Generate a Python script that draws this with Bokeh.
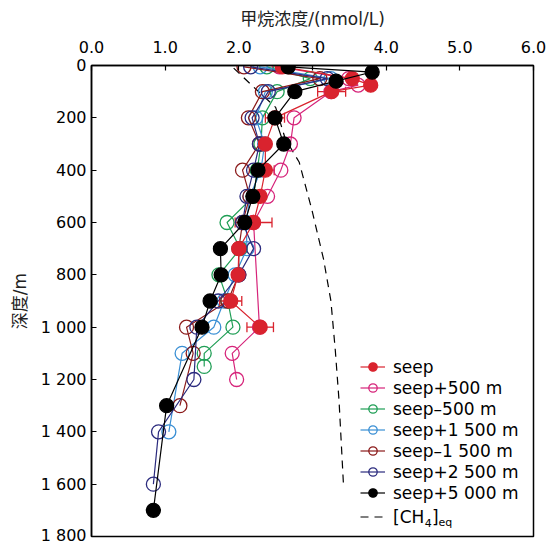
from bokeh.plotting import figure
from bokeh.models import (Range1d, FixedTicker, Legend, LegendItem, Whisker, ColumnDataSource,
                          Label, TeeHead)
from bokeh.embed import file_html
from bokeh.resources import INLINE

# ---------------- data ----------------
seep_depth = [5, 50, 75, 100, 200, 300, 400, 500, 600, 700, 800, 900, 1000]
seep_conc = [2.59, 3.54, 3.79, 3.26, 2.49, 2.36, 2.36, 2.29, 2.20, 2.00, 1.99, 1.89, 2.29]
seep_err = [0, 0, 0, 0.19, 0.13, 0, 0.12, 0, 0.25, 0, 0, 0.15, 0.18]

p500_depth = [5, 50, 75, 100, 200, 300, 400, 500, 600, 1000, 1100, 1200]
p500_conc = [2.55, 3.49, 3.62, 3.25, 2.75, 2.70, 2.57, 2.39, 2.20, 2.28, 1.91, 1.97]

m500_depth = [5, 50, 100, 200, 300, 400, 500, 600, 700, 800, 900, 1000, 1100, 1150]
m500_conc = [2.38, 2.97, 2.52, 2.32, 2.30, 2.25, 2.20, 1.84, 2.02, 1.73, 1.85, 1.92, 1.53, 1.53]

p1500_depth = [5, 50, 100, 200, 300, 400, 500, 600, 700, 800, 900, 1000, 1100, 1400]
p1500_conc = [2.29, 3.25, 2.36, 2.23, 2.35, 2.30, 2.15, 2.10, 2.11, 1.95, 1.80, 1.66, 1.23, 1.05]

m1500_depth = [5, 50, 100, 200, 300, 400, 500, 600, 700, 800, 900, 1000, 1100, 1300]
m1500_conc = [2.07, 3.10, 2.32, 2.13, 2.28, 2.05, 2.15, 2.05, 2.00, 2.00, 1.85, 1.29, 1.38, 1.20]

p2500_depth = [5, 50, 100, 200, 300, 400, 500, 600, 700, 800, 900, 1000, 1200, 1400, 1600]
p2500_conc = [2.16, 3.20, 2.40, 2.18, 2.28, 2.20, 2.11, 2.05, 2.20, 2.00, 1.72, 1.43, 1.39, 0.91, 0.84]

p5000_depth = [5, 25, 60, 100, 200, 300, 400, 500, 600, 700, 800, 900, 1000, 1300, 1700]
p5000_conc = [2.67, 3.81, 3.32, 2.76, 2.49, 2.61, 2.26, 2.19, 2.08, 1.75, 1.76, 1.61, 1.50, 1.02, 0.84]

eq_depth = [10, 90, 160, 280, 370, 550, 740, 900, 1090, 1280, 1600]
eq_conc = [1.93, 2.23, 2.50, 2.63, 2.82, 2.99, 3.15, 3.25, 3.31, 3.36, 3.42]

x_ticks = [0, 1, 2, 3, 4, 5, 6]
x_tick_labels = ["0.0", "1.0", "2.0", "3.0", "4.0", "5.0", "6.0"]
y_ticks = [0, 200, 400, 600, 800, 1000, 1200, 1400, 1600, 1800]
y_tick_labels = ["0", "200", "400", "600", "800", "1 000", "1 200", "1 400", "1 600", "1 800"]

FONT = "DejaVu Sans"
CJK = "DejaVu Sans, Noto Sans CJK SC"

p = figure(frame_width=442, frame_height=471, output_backend="svg", toolbar_location=None,
           x_range=Range1d(0, 6), y_range=Range1d(1800, 0),
           x_axis_location="above", min_border_left=91, min_border_top=65,
           min_border_right=14, min_border_bottom=8)
p.background_fill_color = "white"
p.grid.visible = False
p.outline_line_color = "black"
p.outline_line_width = 1.5
p.outline_line_alpha = 1

for ax in (p.xaxis[0], p.yaxis[0]):
    ax.major_tick_in = 5
    ax.major_tick_out = 0
    ax.minor_tick_in = 0
    ax.minor_tick_out = 0
    ax.axis_line_width = 1.5
    ax.major_tick_line_width = 1.2
    ax.major_label_text_font = FONT
    ax.major_label_text_font_size = "16px"
    ax.major_label_text_color = "black"
    ax.axis_label_text_font = CJK
    ax.axis_label_text_font_size = "17px"
    ax.axis_label_text_font_style = "normal"
    ax.axis_label_text_color = "#222222"

p.xaxis.ticker = FixedTicker(ticks=x_ticks)
p.xaxis.major_label_overrides = dict(zip(x_ticks, x_tick_labels))
p.yaxis.ticker = FixedTicker(ticks=y_ticks)
p.yaxis.major_label_overrides = dict(zip(y_ticks, y_tick_labels))
p.xaxis.axis_label = "甲烷浓度/(nmol/L)"
p.yaxis.axis_label = "深度/m"
p.xaxis.major_label_standoff = 13
p.xaxis.axis_label_standoff = 9
p.yaxis.major_label_standoff = 5
p.yaxis.axis_label_standoff = 8

SIZE = 14

def series(conc, depth, color, filled, name):
    src = ColumnDataSource(dict(x=conc, y=depth))
    r_line = p.line("x", "y", source=src, line_color=color, line_width=1.2)
    r_pt = p.scatter("x", "y", source=src, marker="circle", size=SIZE,
                     line_color=color, line_width=1.3,
                     fill_color=color if filled else None,
                     fill_alpha=1 if filled else 0)
    return LegendItem(label=name, renderers=[r_line, r_pt])

# dashed equilibrium line
r_eq = p.line(eq_conc, eq_depth, line_color="black", line_width=1.2, line_dash="8 6")

items = []
items.append(series(p500_conc, p500_depth, "#d6247a", False, "seep+500 m"))
items.append(series(m500_conc, m500_depth, "#1f9e55", False, "seep\u2013500 m"))
items.append(series(p1500_conc, p1500_depth, "#3a8fd4", False, "seep+1 500 m"))
items.append(series(m1500_conc, m1500_depth, "#8b1a1a", False, "seep\u20131 500 m"))
items.append(series(p2500_conc, p2500_depth, "#2b2b7e", False, "seep+2 500 m"))

# seep with error bars
err_x = [c for c, e in zip(seep_conc, seep_err) if e > 0]
err_y = [d for d, e in zip(seep_depth, seep_err) if e > 0]
err_e = [e for e in seep_err if e > 0]
err_src = ColumnDataSource(dict(base=err_y, lower=[c - e for c, e in zip(err_x, err_e)],
                                upper=[c + e for c, e in zip(err_x, err_e)]))
wh = Whisker(base="base", lower="lower", upper="upper", dimension="width", source=err_src,
             line_color="#d9232e", line_width=1.3)
wh.upper_head = TeeHead(size=10, line_color="#d9232e", line_width=1.3)
wh.lower_head = TeeHead(size=10, line_color="#d9232e", line_width=1.3)
p.add_layout(wh)
seep_item = series(seep_conc, seep_depth, "#d9232e", True, "seep")
items.insert(0, seep_item)

items.append(series(p5000_conc, p5000_depth, "black", True, "seep+5 000 m"))

legend = Legend(items=items, location=(269, 33), orientation="vertical")
legend2 = Legend(items=[LegendItem(label="[CH", renderers=[r_eq])], location=(269, 9))
for lg in (legend, legend2):
    lg.glyph_width = 25
    lg.glyph_height = 21
    lg.label_height = 21
    lg.label_standoff = 8
    lg.spacing = 0
    lg.padding = 0
    lg.margin = 0
    lg.border_line_alpha = 0
    lg.background_fill_alpha = 0
    lg.label_text_font = FONT
    lg.label_text_font_size = "17px"
    lg.label_text_color = "black"
p.add_layout(legend)
p.add_layout(legend2)

for txt, xx, yy, fs in [("4", 4.525, 1748, "11px"), ("]", 4.621, 1727, "17px"),
                        ("eq", 4.711, 1748, "11px")]:
    p.add_layout(Label(x=xx, y=yy, text=txt, text_font=FONT, text_font_size=fs,
                       text_baseline="middle", text_align="left", text_color="black"))

open("out.html", "w").write(file_html(p, INLINE))
